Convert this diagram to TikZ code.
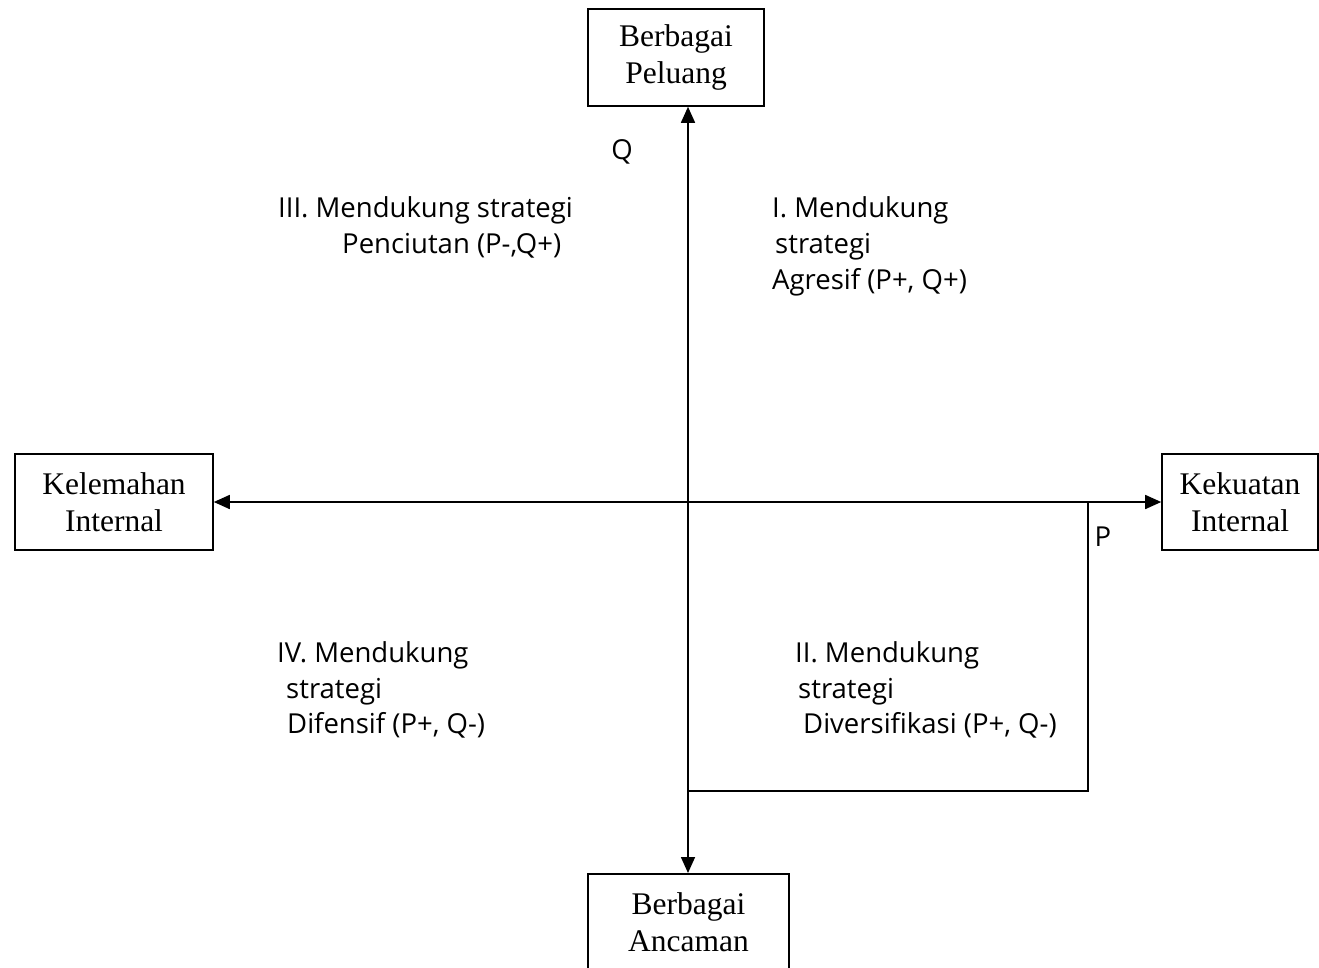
\documentclass[tikz,border=0pt]{standalone}
\usepackage{fontspec}
\setmainfont{Liberation Serif}
\newfontfamily\comicf{Open Sans}
\usetikzlibrary{arrows.meta}
\begin{document}
\begin{tikzpicture}[x=1pt,y=-1pt,
  box/.style={draw, line width=1.6pt, inner sep=0pt, align=center,
    font=\fontsize{31.5}{37}\selectfont},
  lbl/.style={anchor=base west, inner sep=0pt, font=\comicf\fontsize{27.5}{32}\selectfont},
  axis/.style={line width=1.6pt, {Triangle[length=16pt,width=14pt]}-{Triangle[length=16pt,width=14pt]}},
  plain/.style={line width=1.6pt}]
\useasboundingbox (0,0) rectangle (1319,967);
\clip (0,0) rectangle (1319,967);
\coordinate (O) at (688,502);
\node[box, minimum width=176pt, minimum height=97pt] (top) at (676,57.5) {Berbagai\\Peluang};
\node[box, minimum width=201pt, minimum height=97pt, anchor=north] (bot) at (688.5,873) {Berbagai\\Ancaman};
\node[box, minimum width=198pt, minimum height=96pt] (left) at (114,502) {Kelemahan\\Internal};
\node[box, minimum width=156pt, minimum height=96pt] (right) at (1240,502) {Kekuatan\\Internal};
\draw[axis] (top.south -| O) -- (bot.north -| O);
\draw[axis] (left.east |- O) -- (right.west |- O);
\coordinate (Pt) at (1088,502);
\coordinate (Pb) at (1088,791);
\coordinate (Ob) at (688,791);
\draw[plain] (Pt) -- (Pb) -- (Ob);
\node[lbl, anchor=center] (Q) at (622,152) {Q};
\node[lbl, anchor=center] (P) at (1103,537) {P};
\node[lbl] (t3a) at (278,217) {III. Mendukung strategi};
\node[lbl] (t3b) at (342,253) {Penciutan (P-,Q+)};
\node[lbl] (t1a) at (772,217) {I. Mendukung};
\node[lbl] (t1b) at (775,253) {strategi};
\node[lbl] (t1c) at (772,289) {Agresif (P+, Q+)};
\node[lbl] (t4a) at (277,662) {IV. Mendukung};
\node[lbl] (t4b) at (286,698) {strategi};
\node[lbl] (t4c) at (287,733) {Difensif (P+, Q-)};
\node[lbl] (t2a) at (795,662) {II. Mendukung};
\node[lbl] (t2b) at (798,698) {strategi};
\node[lbl] (t2c) at (803,733) {Diversifikasi (P+, Q-)};
\end{tikzpicture}
\end{document}
